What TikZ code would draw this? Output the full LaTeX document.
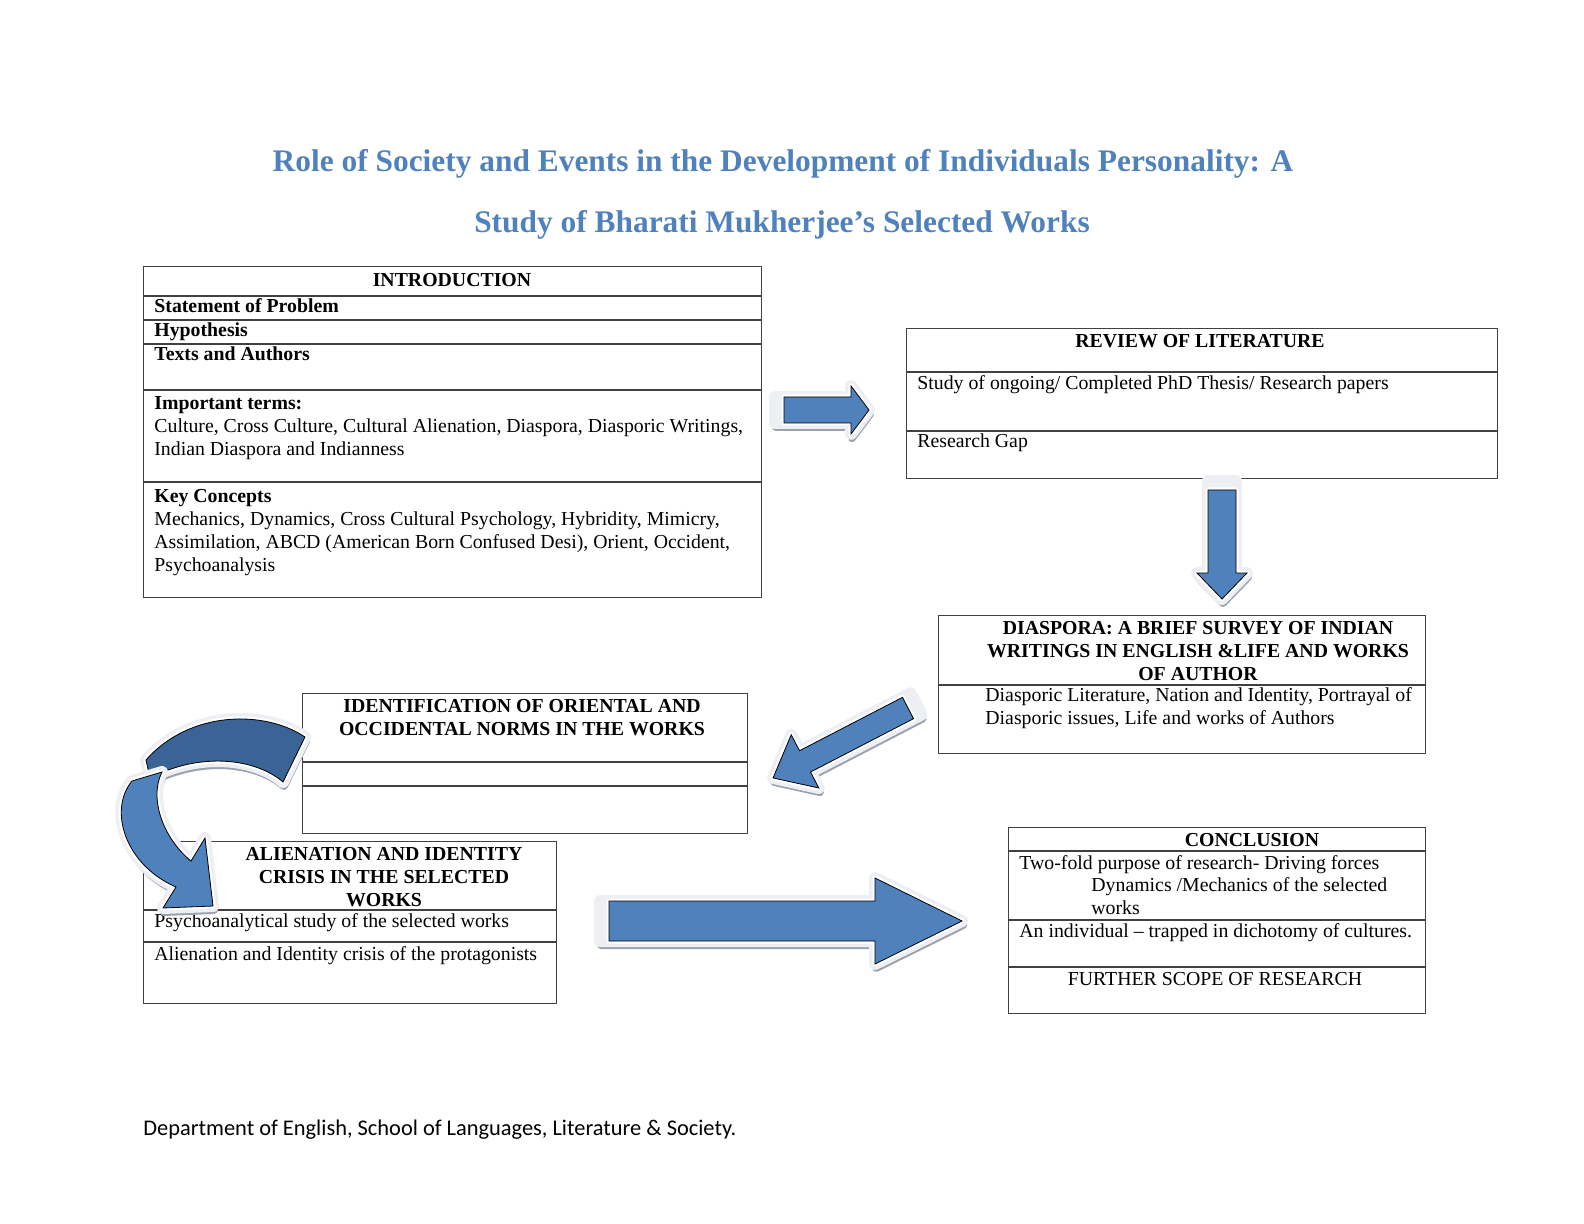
\documentclass[tikz,border=0pt]{standalone}
\usepackage{fontspec}
\setmainfont{Liberation Serif}
\newfontfamily\footfont{Carlito}
\definecolor{arrblue}{HTML}{4F81BD}
\definecolor{darkblue}{HTML}{3B6496}
\definecolor{titleblue}{HTML}{4F81BD}
\definecolor{shadowgray}{HTML}{9AA2AF}
\definecolor{halogray}{HTML}{EDEFF3}
\newcommand{\bodyfont}{\fontsize{9.9}{11.5}\selectfont}
\tikzset{
  box/.style={draw=black!75, line width=0.6pt, inner sep=0, anchor=north west},
  rowline/.style={draw=black!75, line width=0.6pt},
  txt/.style={inner sep=0, anchor=base west, font=\bodyfont},
  para/.style={inner sep=0, anchor=north west, align=left, font=\bodyfont},
  hd/.style={inner sep=0, anchor=base, font=\bodyfont\bfseries},
  hdpara/.style={inner sep=0, anchor=north, align=center, font=\bodyfont\bfseries},
  ttl/.style={inner sep=0, anchor=base, text=titleblue, font=\fontsize{15.7}{18}\selectfont\bfseries},
  arrshadow/.style={draw=shadowgray, fill=shadowgray, line width=4pt, line join=round, xshift=0.5pt, yshift=-2pt},
  arrhalo/.style={draw=halogray, fill=halogray, line width=6pt, line join=round},
  arrrim/.style={draw=white, fill=white, line width=2.5pt, line join=round},
  arrbody/.style={fill=arrblue},
  darkbody/.style={fill=darkblue}
}
% tail, angle, length, half shaft, half head, head length
\newcommand{\blockarrow}[6]{%
  \foreach \lay/\tx in {arrshadow/-9,arrhalo/-9,arrrim/0,arrbody/0}
    \draw[\lay, shift={(#1)}, rotate=#2] (\tx,-#4) -- (#3-#6,-#4) -- (#3-#6,-#5) -- (#3,0)
      -- (#3-#6,#5) -- (#3-#6,#4) -- (\tx,#4) -- cycle;
}

\begin{document}
\begin{tikzpicture}[x=0.5pt, y=-0.5pt]
\useasboundingbox (0,0) rectangle (1584,1224);

\node[ttl] (title1) at (783,172) {Role of Society and Events in the Development of Individuals Personality: A};
\node[ttl] (title2) at (782,233) {Study of Bharati Mukherjee’s Selected Works};

% introduction
\node[box, minimum width=309pt, minimum height=165.5pt] (intro) at (143,266) {};
\foreach \yy in {296,320,344,390,482}
  \draw[rowline] (intro.west |- 0,\yy) -- (intro.east |- 0,\yy);
\node[hd] (introH) at (452,287) {INTRODUCTION};
\node[txt] (introA) at (154,313) {\textbf{Statement of Problem}};
\node[txt] (introB) at (154,337) {\textbf{Hypothesis}};
\node[txt] (introC) at (154,361) {\textbf{Texts and Authors}};
\node[para] (introD) at (154,393) {\strut\textbf{Important terms:}\\
  Culture, Cross Culture, Cultural Alienation, Diaspora, Diasporic Writings,\\
  Indian Diaspora and Indianness};
\node[para] (introE) at (154,486) {\strut\textbf{Key Concepts}\\
  Mechanics, Dynamics, Cross Cultural Psychology, Hybridity, Mimicry,\\
  Assimilation, ABCD (American Born Confused Desi), Orient, Occident,\\
  Psychoanalysis};

% review
\node[box, minimum width=295.5pt, minimum height=75pt] (review) at (906,328) {};
\foreach \yy in {372,431}
  \draw[rowline] (review.west |- 0,\yy) -- (review.east |- 0,\yy);
\node[hd] (reviewH) at (1200,348) {REVIEW OF LITERATURE};
\node[txt] (reviewA) at (917,390) {Study of ongoing/ Completed PhD Thesis/ Research papers};
\node[txt] (reviewB) at (917,448) {Research Gap};

% diaspora
\node[box, minimum width=243.5pt, minimum height=69pt] (diasp) at (938,615) {};
\draw[rowline] (diasp.west |- 0,685) -- (diasp.east |- 0,685);
\node[hdpara] (diaspH) at (1198,618) {\strut DIASPORA: A BRIEF SURVEY OF INDIAN\\
  WRITINGS IN ENGLISH \&LIFE AND WORKS\\ OF AUTHOR};
\node[para] (diaspA) at (985,685) {\strut Diasporic Literature, Nation and Identity, Portrayal of\\
  Diasporic issues, Life and works of Authors};

% identification
\node[box, minimum width=222.5pt, minimum height=70pt] (ident) at (302,693) {};
\foreach \yy in {762,786}
  \draw[rowline] (ident.west |- 0,\yy) -- (ident.east |- 0,\yy);
\node[hdpara] (identH) at (522,696) {\strut IDENTIFICATION OF ORIENTAL AND\\
  OCCIDENTAL NORMS IN THE WORKS};

% alienation
\node[box, minimum width=206.5pt, minimum height=81pt] (alien) at (143,841) {};
\foreach \yy in {910,942}
  \draw[rowline] (alien.west |- 0,\yy) -- (alien.east |- 0,\yy);
\node[hdpara] (alienH) at (384,844) {\strut ALIENATION AND IDENTITY\\
  CRISIS IN THE SELECTED\\ WORKS};
\node[txt] (alienA) at (154,927) {Psychoanalytical study of the selected works};
\node[txt] (alienB) at (154,960) {Alienation and Identity crisis of the protagonists};

% conclusion
\node[box, minimum width=208.5pt, minimum height=93pt] (concl) at (1008,827) {};
\foreach \yy in {851,920,967}
  \draw[rowline] (concl.west |- 0,\yy) -- (concl.east |- 0,\yy);
\node[hd] (conclH) at (1252,846) {CONCLUSION};
\node[txt] (conclA) at (1019,869) {Two-fold purpose of research- Driving forces};
\node[para] (conclB) at (1091,875) {\strut Dynamics /Mechanics of the selected\\ works};
\node[txt] (conclC) at (1019,937) {An individual -- trapped in dichotomy of cultures.};
\node[hd, font=\bodyfont] (conclD) at (1215,985) {FURTHER SCOPE OF RESEARCH};

% arrows
\blockarrow{784,410}{0}{85}{13}{24}{18}
\blockarrow{1222,490}{-90}{109}{14}{25}{26}
\blockarrow{908,708}{207.4}{152}{12}{30}{36}
\blockarrow{609,921}{0}{353}{20}{43}{87}

% curved arrow
\foreach \lay in {arrshadow,arrhalo,arrrim,darkbody}
  \draw[\lay] (305,737) .. controls (265,710) and (190,710) .. (146,760) -- (150,778)
    .. controls (200,752) and (255,758) .. (283,782) -- cycle;
\foreach \lay in {arrshadow,arrhalo,arrrim,arrbody}
  \draw[\lay] (162,772) .. controls (148,800) and (165,840) .. (191,861) -- (205,838)
    -- (213,906) -- (163,908) -- (176,887) .. controls (125,865) and (108,810) .. (132,781) -- cycle;

\node[inner sep=0, anchor=base west, font=\footfont\fontsize{11.2}{13}\selectfont] (footer) at (143,1135)
  {Department of English, School of Languages, Literature \& Society.};
\end{tikzpicture}
\end{document}
